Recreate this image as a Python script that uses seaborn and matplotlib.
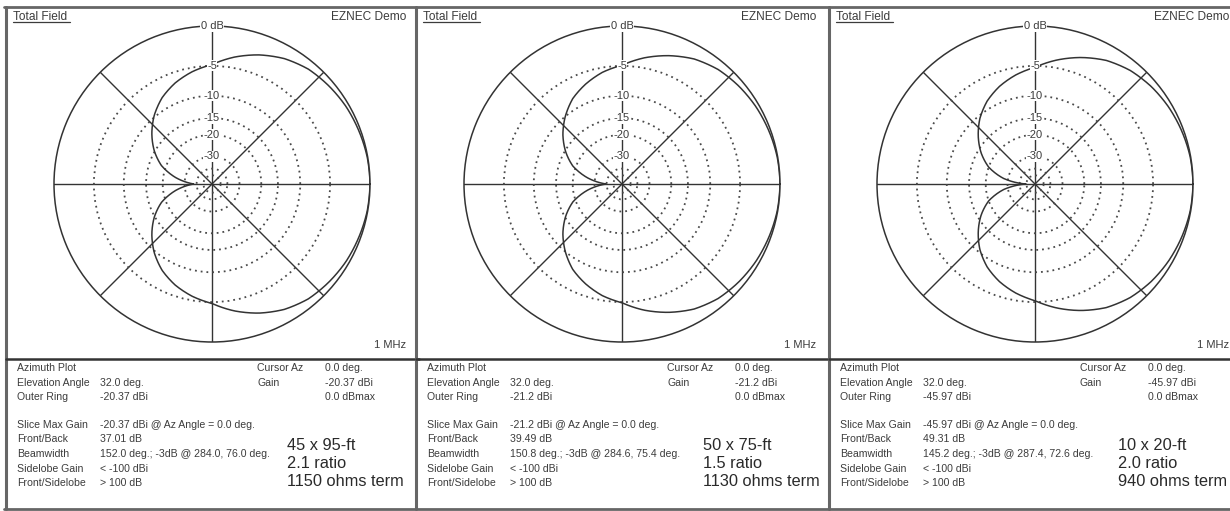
import numpy as np
import pandas as pd
import seaborn as sns
import matplotlib.pyplot as plt

# Azimuth pattern, upper half (pattern is symmetric about 0 deg), dB below max
azimuth_deg = [0, 10, 20, 30, 40, 50, 60, 70, 80, 90, 100, 110, 120, 130, 140, 150, 160, 170, 180]
pattern_45x95 = [0, -0.05, -0.2, -0.35, -0.6, -0.9, -1.5, -2.4, -3.5, -4.8, -5.6, -6.6, -7.9, -9.7, -12.0, -14.8, -18.5, -25.0, -37.0]
pattern_50x75 = [0, -0.05, -0.2, -0.37, -0.62, -0.95, -1.55, -2.5, -3.6, -4.9, -5.7, -6.8, -8.1, -10.0, -12.3, -15.2, -19.0, -26.0, -39.5]
pattern_10x20 = [0, -0.05, -0.22, -0.42, -0.7, -1.1, -1.75, -2.75, -3.9, -5.2, -6.1, -7.2, -8.6, -10.5, -13.0, -16.0, -20.0, -27.5, -49.3]
patterns = [pattern_45x95, pattern_50x75, pattern_10x20]

ring_db = [-5, -10, -15, -20, -30, -40, -50]
ring_labels = ["-5", "-10", "-15", "-20", "-30"]

sizes = ["45 x 95-ft", "50 x 75-ft", "10 x 20-ft"]
ratios = ["2.1 ratio", "1.5 ratio", "2.0 ratio"]
terms = ["1150 ohms term", "1130 ohms term", "940 ohms term"]
outer_ring = ["-20.37", "-21.2", "-45.97"]
front_back = ["37.01", "39.49", "49.31"]
beamwidth = ["152.0 deg.; -3dB @ 284.0, 76.0 deg.",
             "150.8 deg.; -3dB @ 284.6, 75.4 deg.",
             "145.2 deg.; -3dB @ 287.4, 72.6 deg."]

row_names = ["Azimuth Plot", "Elevation Angle", "Outer Ring",
             "Slice Max Gain", "Front/Back", "Beamwidth", "Sidelobe Gain", "Front/Sidelobe"]


def db_to_r(db):
    # ARRL log scale: 0.89 per 2 dB
    return 0.89 ** (-np.asarray(db, dtype=float) / 2)


def r_to_db(r):
    with np.errstate(divide="ignore", invalid="ignore"):
        return -2 * np.log(np.asarray(r, dtype=float)) / np.log(0.89)


sns.set_style("white")
plt.rcParams["font.family"] = ["Liberation Sans", "DejaVu Sans"]

W, H = 1230, 511
fig = plt.figure(figsize=(W / 100, H / 100), dpi=100)

ink = "#333333"
txt = "#3c3c3c"
frame = "#666666"
small = 7.6

bg = fig.add_axes([0, 0, 1, 1])
bg.set_xlim(0, W)
bg.set_ylim(H, 0)
bg.axis("off")

lefts = [6, 416, 829]
panel_w = 413
big_x = [281, 287, 289]
cx_off, cy, R = 206, 184, 158

bg.plot([4, W], [7, 7], color=frame, lw=2)
bg.plot([4, W], [509, 509], color=frame, lw=2)

for i, L in enumerate(lefts):
    bg.plot([L, L], [7, 509], color=frame, lw=2.2)
    bg.plot([L, L + panel_w], [359, 359], color="#333333", lw=1.8)

    # header
    bg.text(L + 7, 16.5, "Total Field", fontsize=8.6, color=txt, va="center")
    bg.plot([L + 7, L + 64], [22.5, 22.5], color=txt, lw=0.9)
    bg.text(L + 400, 16.5, "EZNEC Demo", fontsize=8.6, color=txt, va="center", ha="right")
    bg.text(L + 400, 345, "1 MHz", fontsize=8, color=txt, va="center", ha="right")

    # data block
    values = ["", "32.0 deg.", outer_ring[i] + " dBi",
              outer_ring[i] + " dBi @ Az Angle = 0.0 deg.", front_back[i] + " dB",
              beamwidth[i], "< -100 dBi", "> 100 dB"]
    rows_y = [368, 383, 397, 425, 439.5, 454, 468.5, 483]
    for name, val, y in zip(row_names, values, rows_y):
        bg.text(L + 11, y, name, fontsize=small, color=txt, va="center")
        bg.text(L + 94, y, val, fontsize=small, color=txt, va="center")
    right_names = ["Cursor Az", "Gain", ""]
    right_vals = ["0.0 deg.", outer_ring[i] + " dBi", "0.0 dBmax"]
    for name, val, y in zip(right_names, right_vals, rows_y[:3]):
        bg.text(L + 251, y, name, fontsize=small, color=txt, va="center")
        bg.text(L + 319, y, val, fontsize=small, color=txt, va="center")
    for s, y in zip([sizes[i], ratios[i], terms[i]], [445, 463, 481]):
        bg.text(L + big_x[i], y, s, fontsize=11.8, color="#2a2a2a", va="center")

    # polar plot
    cx = L + cx_off
    ax = fig.add_axes([(cx - R) / W, (H - cy - R) / H, 2 * R / W, 2 * R / H],
                      projection="polar")
    ax.set_facecolor("none")
    ax.set_rscale("function", functions=(db_to_r, r_to_db))

    half = patterns[i]
    theta_deg = azimuth_deg + [360 - a for a in azimuth_deg[-2::-1]]
    gain = half + half[-2::-1]
    df = pd.DataFrame({"theta": np.deg2rad(theta_deg), "gain": gain})
    sns.lineplot(data=df, x="theta", y="gain", ax=ax, sort=False, estimator=None,
                 color=ink, lw=1.1)
    # let the polar transform draw curved segments between the read points
    for line in ax.lines:
        line.get_path()._interpolation_steps = 24

    ax.set_rlim(-300, 0)
    ax.set_xticks(np.deg2rad(np.arange(0, 360, 45)))
    ax.set_xticklabels([])
    ax.set_xticks(np.deg2rad(np.arange(0, 360, 10)), minor=True)
    ax.tick_params(axis="x", which="minor", length=3, width=0.8, color=ink, direction="in")
    ax.tick_params(axis="x", which="major", length=0)
    ax.set_yticks(ring_db)
    ax.set_yticklabels([])
    ax.xaxis.grid(True, color=ink, lw=1.0, ls="-")
    ax.yaxis.grid(True, color="#4a4a4a", lw=1.3, ls=(0, (1, 2.2)))
    ax.spines["polar"].set_color(ink)
    ax.spines["polar"].set_linewidth(1.1)
    ax.set_xlabel("")
    ax.set_ylabel("")

    box = dict(fc="white", ec="none", pad=0.4)
    ax.text(np.pi / 2, 0, "0 dB", fontsize=8, color=txt, ha="center", va="center",
            bbox=box, clip_on=False)
    for db, lab in zip(ring_db, ring_labels):
        ax.text(np.pi / 2, db, lab, fontsize=8, color=txt, ha="center", va="center",
                bbox=box)

fig.savefig("out.png", dpi=100, facecolor="white")
